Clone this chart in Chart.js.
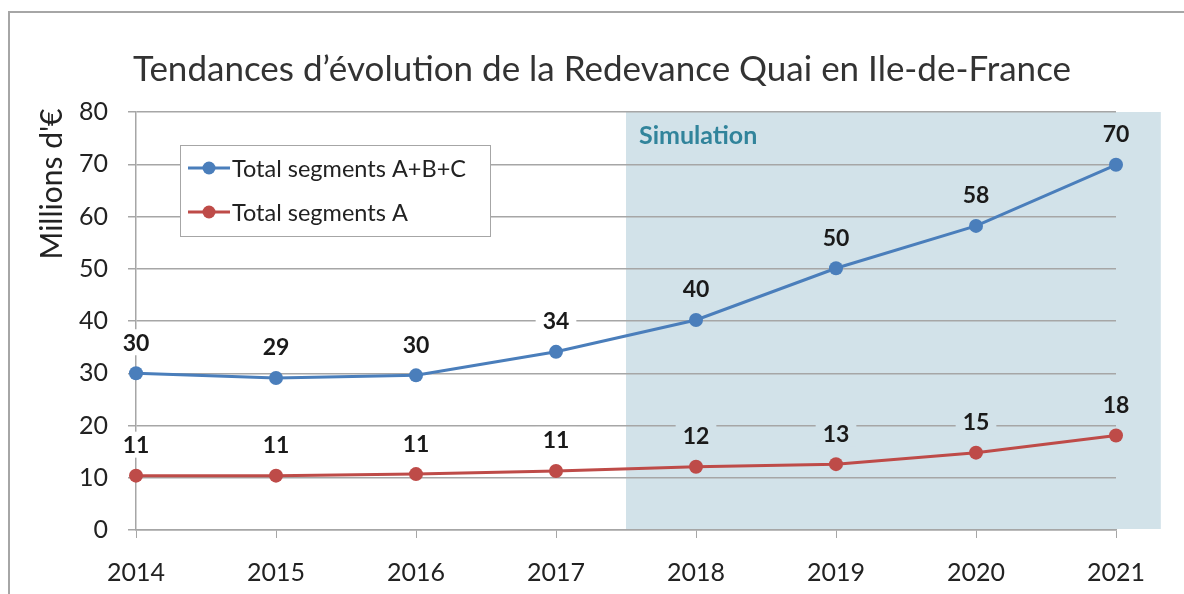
<!DOCTYPE html>
<html>
<head>
<meta charset="utf-8">
<script src="https://cdn.jsdelivr.net/npm/chart.js@4.4.1/dist/chart.umd.min.js"></script>
<style>
  html, body { margin: 0; padding: 0; background: #fff; }
  #wrap { position: relative; width: 1184px; height: 594px; }
  #frame { position: absolute; left: 8px; top: 11px; width: 1200px; height: 600px;
           border-top: 2px solid #a6a6a6; border-left: 2px solid #a6a6a6; }
  canvas { position: absolute; left: 0; top: 0; }
</style>
</head>
<body>
<div id="wrap">
  <div id="frame"></div>
  <canvas id="myChart" width="1184" height="594"></canvas>
</div>
<script>
// data
var years = ["2014", "2015", "2016", "2017", "2018", "2019", "2020", "2021"];
var totalABC = [30.0, 29.1, 29.6, 34.1, 40.2, 50.1, 58.2, 69.9];
var totalA = [10.4, 10.4, 10.7, 11.3, 12.1, 12.6, 14.8, 18.1];
var labelsABC = ["30", "29", "30", "34", "40", "50", "58", "70"];
var labelsA = ["11", "11", "11", "11", "12", "13", "15", "18"];
var yTicks = [0, 10, 20, 30, 40, 50, 60, 70, 80];
var simulationFrom = 3.5; // between 2017 and 2018
var titleText = "Tendances d\u2019\u00e9volution de la Redevance Quai en Ile-de-France";

var blue = "#4a7ebb";
var red = "#be4b48";
var shade = "#d2e2e9";
var gridCol = "#a6a6a6";
var font = "Lato, 'Open Sans', sans-serif";

// shaded "Simulation" area, behind the grid
var simPlugin = {
  id: "sim",
  beforeDraw: function(chart) {
    var ctx = chart.ctx;
    var x = chart.scales.x, y = chart.scales.y;
    var step = x.getPixelForValue(1) - x.getPixelForValue(0);
    var left = x.getPixelForValue(simulationFrom);
    var right = x.getPixelForValue(years.length - 1) + step * 0.32;
    var top = y.getPixelForValue(80);
    var bottom = y.getPixelForValue(0) - 1;
    ctx.save();
    ctx.fillStyle = shade;
    ctx.fillRect(left, top, right - left, bottom - top);
    ctx.fillStyle = "#31849b";
    ctx.font = "bold 25px " + font;
    ctx.textBaseline = "middle";
    ctx.fillText("Simulation", left + 13, top + 24);

    // title
    ctx.fillStyle = "#333";
    ctx.font = "35px " + font;
    ctx.textAlign = "center";
    ctx.fillText(titleText, 602, 70);
    ctx.restore();
  },
  afterDatasetsDraw: function(chart) {
    var ctx = chart.ctx;
    var x = chart.scales.x;
    var simLeft = x.getPixelForValue(simulationFrom);
    ctx.save();
    ctx.font = "bold 23px " + font;
    ctx.textAlign = "center";
    ctx.textBaseline = "middle";
    var sets = [labelsABC, labelsA];
    sets.forEach(function(lbls, di) {
      var meta = chart.getDatasetMeta(di);
      meta.data.forEach(function(pt, i) {
        var tx = pt.x, ty = pt.y - 31;
        var w = ctx.measureText(lbls[i]).width + 14;
        ctx.fillStyle = tx > simLeft ? shade : "#fff";
        ctx.fillRect(tx - w / 2, ty - 13, w, 26);
        ctx.fillStyle = "#1a1a1a";
        ctx.fillText(lbls[i], tx, ty + 1);
      });
    });

    // legend box
    var bx = 180, by = 145, bw = 310, bh = 91;
    ctx.fillStyle = "#fff";
    ctx.fillRect(bx, by, bw, bh);
    ctx.strokeStyle = gridCol;
    ctx.lineWidth = 1;
    ctx.strokeRect(bx + 0.5, by + 0.5, bw, bh);
    ctx.font = "23.5px " + font;
    ctx.textAlign = "left";
    chart.data.datasets.forEach(function(ds, i) {
      var ly = by + 23 + i * 44;
      ctx.strokeStyle = ds.borderColor;
      ctx.lineWidth = 3;
      ctx.beginPath();
      ctx.moveTo(bx + 8, ly);
      ctx.lineTo(bx + 50, ly);
      ctx.stroke();
      ctx.fillStyle = ds.backgroundColor;
      ctx.beginPath();
      ctx.arc(bx + 29, ly, 6.5, 0, Math.PI * 2);
      ctx.fill();
      ctx.fillStyle = "#222";
      ctx.fillText(ds.label, bx + 52, ly + 1);
    });

    // y axis title
    ctx.save();
    ctx.translate(52, 184);
    ctx.rotate(-Math.PI / 2);
    ctx.font = "30px " + font;
    ctx.textAlign = "center";
    ctx.fillStyle = "#222";
    ctx.fillText("Millions d'\u20ac", 0, 0);
    ctx.restore();
    ctx.restore();
  }
};

var ctx = document.getElementById("myChart");

var chartData = {
  labels: years,
  datasets: [
    {
      label: "Total segments A+B+C",
      data: totalABC,
      borderColor: blue,
      backgroundColor: blue,
      borderWidth: 3,
      pointRadius: 7,
      pointBorderWidth: 0,
      tension: 0
    },
    {
      label: "Total segments A",
      data: totalA,
      borderColor: red,
      backgroundColor: red,
      borderWidth: 3,
      pointRadius: 7,
      pointBorderWidth: 0,
      tension: 0
    }
  ]
};

var options = {
  responsive: false,
  animation: false,
  layout: { padding: { left: 20, right: 68, top: 112, bottom: 0 } },
  plugins: {
    legend: { display: false },
    tooltip: { enabled: false },
    title: { display: false }
  },
  scales: {
    x: {
      offset: false,
      grid: { drawOnChartArea: false, drawTicks: true, tickLength: 8, color: gridCol },
      border: { display: true, color: gridCol, width: 1.5 },
      ticks: { color: "#222", font: { family: font, size: 25 }, padding: 20, maxRotation: 0 },
      afterFit: function(scale) { scale.height = 64; }
    },
    y: {
      min: 0,
      max: 80,
      afterBuildTicks: function(scale) {
        scale.ticks = yTicks.map(function(v) { return { value: v }; });
      },
      grid: { color: gridCol, lineWidth: 1.5, tickLength: 8 },
      border: { display: true, color: gridCol, width: 1.5 },
      ticks: { color: "#222", font: { family: font, size: 25 }, padding: 20 },
      afterFit: function(scale) { scale.width = 116; }
    }
  }
};

var chart = new Chart(ctx, {
  type: "line",
  data: chartData,
  options: options,
  plugins: [simPlugin]
});
</script>
</body>
</html>
